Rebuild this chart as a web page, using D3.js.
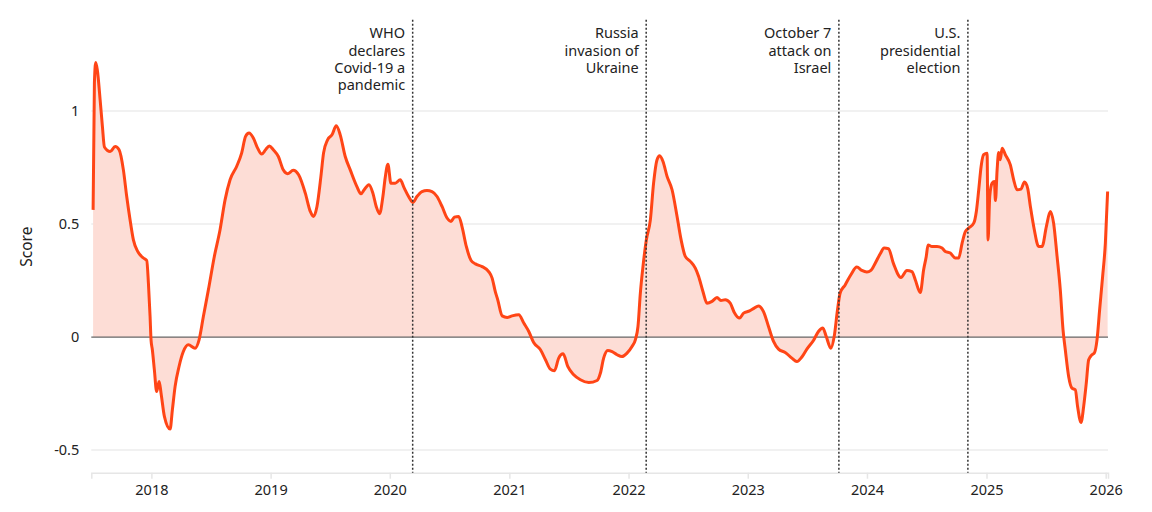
<!doctype html>
<html>
<head>
    <meta charset="utf-8">
    <title>Score</title>
    <script src="https://d3js.org/d3.v7.min.js"></script>
    <style type="text/css">
        html, body { margin: 0; background: #fff; }
        svg text { font-family: "Noto Sans", sans-serif; fill: #222; }
    </style>
</head>
<body>
<svg id="chart" width="1152" height="512"></svg>
<script type="text/javascript">
// time as decimal years
var years = [
    2017.511, 2017.522, 2017.533, 2017.547, 2017.570, 2017.589, 2017.606, 2017.654, 2017.696, 2017.729,
    2017.765, 2017.793, 2017.821, 2017.849, 2017.885, 2017.933, 2017.961, 2017.975, 2017.989, 2017.997,
    2018.008, 2018.025, 2018.044, 2018.065, 2018.081, 2018.109, 2018.157, 2018.176, 2018.199, 2018.232,
    2018.268, 2018.310, 2018.366, 2018.400, 2018.436, 2018.478, 2018.528, 2018.576, 2018.618, 2018.660,
    2018.715, 2018.757, 2018.790, 2018.819, 2018.855, 2018.891, 2018.925, 2018.958, 2018.989, 2019.023,
    2019.065, 2019.106, 2019.142, 2019.190, 2019.235, 2019.291, 2019.333, 2019.360, 2019.389, 2019.422,
    2019.444, 2019.478, 2019.515, 2019.551, 2019.584, 2019.626, 2019.668, 2019.724, 2019.758, 2019.785,
    2019.825, 2019.858, 2019.886, 2019.914, 2019.942, 2019.961, 2019.984, 2020.009, 2020.045, 2020.087,
    2020.121, 2020.157, 2020.194, 2020.227, 2020.269, 2020.311, 2020.353, 2020.395, 2020.437, 2020.479,
    2020.512, 2020.540, 2020.576, 2020.604, 2020.640, 2020.680, 2020.716, 2020.772, 2020.827, 2020.856,
    2020.883, 2020.903, 2020.940, 2020.982, 2021.023, 2021.079, 2021.121, 2021.163, 2021.204, 2021.261,
    2021.303, 2021.344, 2021.378, 2021.414, 2021.451, 2021.490, 2021.540, 2021.596, 2021.666, 2021.736,
    2021.764, 2021.791, 2021.825, 2021.862, 2021.904, 2021.945, 2021.987, 2022.029, 2022.057, 2022.079,
    2022.099, 2022.121, 2022.149, 2022.183, 2022.210, 2022.239, 2022.261, 2022.289, 2022.323, 2022.365,
    2022.407, 2022.441, 2022.476, 2022.518, 2022.560, 2022.588, 2022.624, 2022.658, 2022.700, 2022.742,
    2022.775, 2022.811, 2022.853, 2022.887, 2022.931, 2022.965, 2023.015, 2023.054, 2023.090, 2023.132,
    2023.174, 2023.216, 2023.258, 2023.314, 2023.370, 2023.412, 2023.454, 2023.496, 2023.551, 2023.593,
    2023.630, 2023.658, 2023.697, 2023.725, 2023.753, 2023.775, 2023.817, 2023.865, 2023.915, 2023.957,
    2023.999, 2024.033, 2024.069, 2024.111, 2024.144, 2024.180, 2024.222, 2024.284, 2024.334, 2024.376,
    2024.404, 2024.446, 2024.474, 2024.496, 2024.511, 2024.544, 2024.586, 2024.628, 2024.655, 2024.697,
    2024.739, 2024.767, 2024.796, 2024.823, 2024.851, 2024.893, 2024.915, 2024.935, 2024.955, 2024.976,
    2025.005, 2025.013, 2025.027, 2025.047, 2025.066, 2025.075, 2025.089, 2025.102, 2025.116, 2025.131,
    2025.158, 2025.200, 2025.228, 2025.256, 2025.290, 2025.318, 2025.345, 2025.368, 2025.401, 2025.437,
    2025.466, 2025.502, 2025.535, 2025.563, 2025.592, 2025.619, 2025.642, 2025.661, 2025.689, 2025.717,
    2025.745, 2025.764, 2025.793, 2025.815, 2025.837, 2025.857, 2025.885, 2025.904, 2025.927, 2025.949,
    2025.974, 2025.997, 2026.016
];
var scores = [
    0.563, 1.124, 1.215, 1.180, 1.050, 0.932, 0.841, 0.821, 0.843, 0.829,
    0.740, 0.622, 0.519, 0.430, 0.379, 0.350, 0.339, 0.239, 0.091, -0.012,
    -0.056, -0.145, -0.241, -0.196, -0.248, -0.351, -0.407, -0.322, -0.218, -0.130,
    -0.064, -0.034, -0.049, -0.012, 0.091, 0.209, 0.357, 0.475, 0.607, 0.696,
    0.755, 0.814, 0.888, 0.903, 0.881, 0.836, 0.810, 0.829, 0.846, 0.829,
    0.799, 0.740, 0.723, 0.738, 0.718, 0.637, 0.556, 0.534, 0.578, 0.711,
    0.814, 0.873, 0.895, 0.935, 0.895, 0.799, 0.740, 0.666, 0.634, 0.652,
    0.674, 0.637, 0.578, 0.546, 0.622, 0.704, 0.765, 0.681, 0.681, 0.696,
    0.659, 0.622, 0.596, 0.622, 0.644, 0.649, 0.644, 0.622, 0.578, 0.527,
    0.512, 0.531, 0.534, 0.489, 0.401, 0.339, 0.324, 0.312, 0.290, 0.261,
    0.200, 0.165, 0.094, 0.087, 0.094, 0.099, 0.062, 0.025, -0.024, -0.056,
    -0.100, -0.142, -0.149, -0.093, -0.074, -0.130, -0.167, -0.189, -0.201, -0.192,
    -0.159, -0.093, -0.059, -0.064, -0.078, -0.086, -0.071, -0.042, -0.012, 0.047,
    0.195, 0.312, 0.430, 0.519, 0.681, 0.785, 0.802, 0.777, 0.711, 0.652,
    0.534, 0.430, 0.357, 0.335, 0.305, 0.268, 0.202, 0.150, 0.158, 0.175,
    0.162, 0.165, 0.150, 0.109, 0.084, 0.106, 0.116, 0.128, 0.138, 0.113,
    0.047, -0.019, -0.053, -0.068, -0.093, -0.108, -0.088, -0.053, -0.015, 0.025,
    0.040, 0.003, -0.049, 0.003, 0.121, 0.195, 0.231, 0.276, 0.310, 0.295,
    0.288, 0.295, 0.327, 0.369, 0.394, 0.391, 0.325, 0.264, 0.295, 0.290,
    0.254, 0.197, 0.298, 0.357, 0.408, 0.401, 0.401, 0.394, 0.379, 0.372,
    0.350, 0.350, 0.416, 0.467, 0.482, 0.504, 0.556, 0.652, 0.755, 0.807,
    0.814, 0.430, 0.622, 0.681, 0.688, 0.604, 0.740, 0.817, 0.785, 0.836,
    0.807, 0.762, 0.696, 0.652, 0.655, 0.686, 0.659, 0.578, 0.475, 0.401,
    0.401, 0.489, 0.556, 0.504, 0.357, 0.209, 0.032, -0.056, -0.174, -0.226,
    -0.233, -0.307, -0.378, -0.307, -0.204, -0.100, -0.078, -0.071, -0.012, 0.121,
    0.268, 0.416, 0.644
];

var yTicks = [-0.5, 0, 0.5, 1];
var yTickLabels = ["-0.5", "0", "0.5", "1"];
var xTicks = ["2018", "2019", "2020", "2021", "2022", "2023", "2024", "2025", "2026"];

var eventDates = ["2020-03-11", "2022-02-24", "2023-10-07", "2024-11-05"];
var eventLabels = [
    ["WHO", "declares", "Covid-19 a", "pandemic"],
    ["Russia", "invasion of", "Ukraine"],
    ["October 7", "attack on", "Israel"],
    ["U.S.", "presidential", "election"]
];

function decToDate(t) {
    var yr = Math.floor(t);
    var start = new Date(yr, 0, 1), end = new Date(yr + 1, 0, 1);
    return new Date(+start + (t - yr) * (end - start));
}
var parse = d3.timeParse("%Y-%m-%d");

var data = years.map(function(t, i) { return {date: decToDate(t), v: scores[i]}; });

var svg = d3.select("#chart");
var plotLeft = 91.3, plotRight = 1108, plotTop = 20.7, plotBottom = 472.7;

var x = d3.scaleTime()
    .domain([parse("2017-07-01"), parse("2026-01-08")])
    .range([plotLeft, plotRight]);
var y = d3.scaleLinear()
    .domain([-0.6, 1.4])
    .range([plotBottom, plotTop]);

// grid
svg.append("g").selectAll("line")
    .data(yTicks.filter(function(d) { return d !== 0; }))
    .enter().append("line")
    .attr("x1", plotLeft).attr("x2", plotRight)
    .attr("y1", function(d) { return y(d); })
    .attr("y2", function(d) { return y(d); })
    .attr("stroke", "#ececec")
    .attr("stroke-width", 1.5);

// x axis
var xAxis = d3.axisBottom(x)
    .tickValues(xTicks.map(function(s) { return parse(s + "-01-01"); }))
    .tickFormat(d3.timeFormat("%Y"))
    .tickSize(6)
    .tickPadding(6);
var gx = svg.append("g")
    .attr("transform", "translate(0," + plotBottom + ")")
    .call(xAxis);
gx.select(".domain").attr("stroke", "#e6e6e6").attr("stroke-width", 1.5);
gx.selectAll(".tick line").attr("stroke", "#e6e6e6").attr("stroke-width", 1.5);
gx.selectAll(".tick text").attr("font-size", "14.5px").attr("font-family", "Noto Sans").attr("fill", "#222");

// y labels
var gy = svg.append("g")
    .attr("transform", "translate(" + plotLeft + ",0)")
    .call(d3.axisLeft(y).tickValues(yTicks).tickSize(0).tickPadding(12)
        .tickFormat(function(d, i) { return yTickLabels[i]; }));
gy.select(".domain").remove();
gy.selectAll(".tick text").attr("font-size", "14.5px").attr("font-family", "Noto Sans").attr("fill", "#222");

svg.append("text")
    .attr("transform", "translate(32," + ((plotTop + plotBottom) / 2) + ") rotate(-90)")
    .attr("text-anchor", "middle")
    .attr("font-size", "15.5px")
    .text("Score");

// area + line
var area = d3.area()
    .x(function(d) { return x(d.date); })
    .y0(y(0))
    .y1(function(d) { return y(d.v); })
    .curve(d3.curveMonotoneX);
svg.append("path").datum(data)
    .attr("d", area)
    .attr("fill", "#fdddd6");

svg.append("line")
    .attr("x1", plotLeft).attr("x2", plotRight)
    .attr("y1", y(0)).attr("y2", y(0))
    .attr("stroke", "#666")
    .attr("stroke-width", 1.2);

var line = d3.line()
    .x(function(d) { return x(d.date); })
    .y(function(d) { return y(d.v); })
    .curve(d3.curveMonotoneX);
svg.append("path").datum(data)
    .attr("d", line)
    .attr("fill", "none")
    .attr("stroke", "#ff4516")
    .attr("stroke-width", 3)
    .attr("stroke-linejoin", "round");

// events
var ev = svg.append("g").selectAll("g")
    .data(eventDates)
    .enter().append("g");
ev.append("line")
    .attr("x1", function(d) { return x(parse(d)); })
    .attr("x2", function(d) { return x(parse(d)); })
    .attr("y1", plotTop - 1).attr("y2", plotBottom)
    .attr("stroke", "#333")
    .attr("stroke-width", 1.5)
    .attr("stroke-dasharray", "2,2");
ev.each(function(d, i) {
    var g = d3.select(this);
    eventLabels[i].forEach(function(s, j) {
        g.append("text")
            .attr("x", x(parse(d)) - 7.5)
            .attr("y", 38.3 + j * 17.3)
            .attr("text-anchor", "end")
            .attr("font-size", "14.5px")
            .text(s);
    });
});
</script>
</body>
</html>
